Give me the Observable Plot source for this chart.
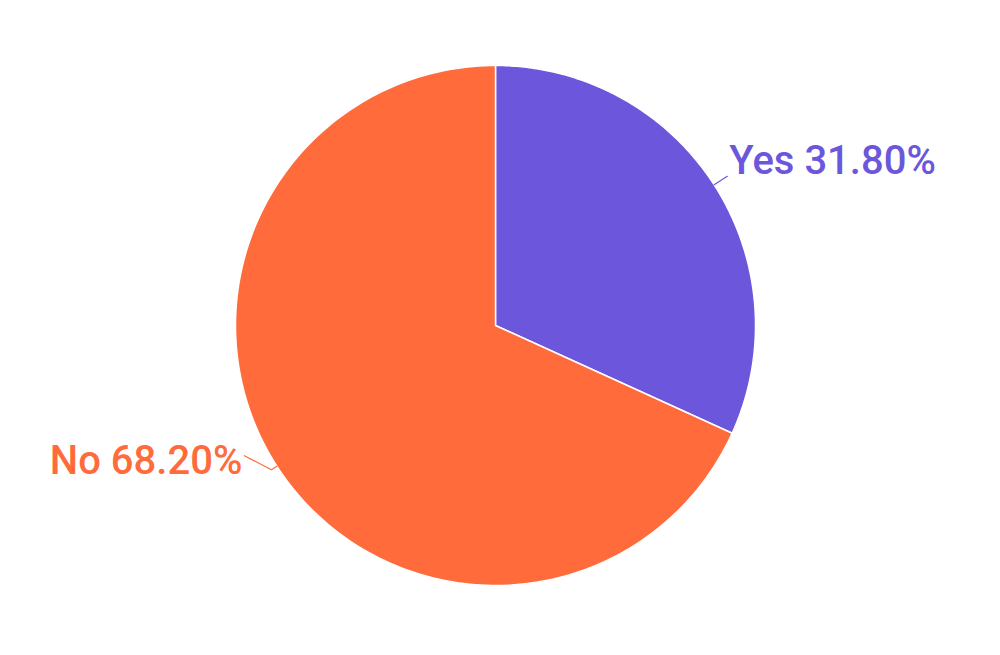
<!DOCTYPE html>
<html>
<head>
<meta charset="utf-8">
<script src="https://cdn.jsdelivr.net/npm/d3@7"></script>
<script src="https://cdn.jsdelivr.net/npm/@observablehq/plot@0.6"></script>
<style>
  html, body { margin: 0; padding: 0; background: #fff; }
  #chart { width: 1000px; height: 655px; }
  svg { font-family: Roboto, "Noto Sans", sans-serif; }
</style>
</head>
<body>
<div id="chart"></div>
<script>
// Data
const categories = ["Yes", "No"];
const values = [31.8, 68.2];
const colors = ["#6c56dc", "#ff6b3b"];

// Slice angles (clockwise from 12 o'clock)
const total = d3.sum(values);
let acc = 0;
const slices = categories.map((c, i) => {
  const a0 = acc / total * 2 * Math.PI;
  acc += values[i];
  const a1 = acc / total * 2 * Math.PI;
  return {category: c, value: values[i], a0, a1, mid: (a0 + a1) / 2};
});
const pt = (a, r) => ({x: r * Math.sin(a), y: r * Math.cos(a)});

// Polygon outlines of each slice in unit coordinates
const polyPts = [];
slices.forEach(s => {
  polyPts.push({category: s.category, ...pt(0, 0)});
  const n = 200;
  for (let k = 0; k <= n; k++) {
    const a = s.a0 + (s.a1 - s.a0) * k / n;
    polyPts.push({category: s.category, ...pt(a, 1)});
  }
  polyPts.push({category: s.category, ...pt(0, 0)});
});

// Leader lines and label anchors
const labelCfg = {
  Yes: {r1: 1.06, extra: [0, 0], anchor: "start", dx: 2, dy: -15},
  No:  {r1: 1.025, extra: [-27 / 260, 14 / 260], anchor: "end", dx: -2, dy: 5},
};
const leaderPts = [];
const labels = [];
slices.forEach(s => {
  const c = labelCfg[s.category];
  const p0 = pt(s.mid, 1);
  const p1 = pt(s.mid, c.r1);
  const p2 = {x: p1.x + c.extra[0], y: p1.y + c.extra[1]};
  leaderPts.push({category: s.category, ...p0}, {category: s.category, ...p1}, {category: s.category, ...p2});
  labels.push({category: s.category, x: p2.x, y: p2.y, text: `${s.category} ${s.value.toFixed(2)}%`, anchor: c.anchor, dx: c.dx, dy: c.dy});
});

const R = 260, cx = 495, cy = 325, W = 1000, H = 655;
const color = {domain: categories, range: colors};

const chart = Plot.plot({
  width: W,
  height: H,
  margin: 0,
  x: {domain: [-cx / R, (W - cx) / R], axis: null},
  y: {domain: [-(H - cy) / R, cy / R], axis: null},
  color,
  marks: [
    Plot.line(polyPts, {x: "x", y: "y", z: "category", fill: "category", stroke: "#fff", strokeWidth: 1.5, strokeLinejoin: "round", curve: "linear"}),
    Plot.line(leaderPts, {x: "x", y: "y", z: "category", stroke: "category", strokeWidth: 1.2}),
    ...labels.map(l => Plot.text([l], {
      x: "x", y: "y", text: "text", fill: "category",
      textAnchor: l.anchor, dx: l.dx, dy: l.dy,
      fontSize: 40, fontWeight: 500, fontFamily: "Roboto"
    }))
  ]
});
document.getElementById("chart").appendChild(chart);
</script>
</body>
</html>
